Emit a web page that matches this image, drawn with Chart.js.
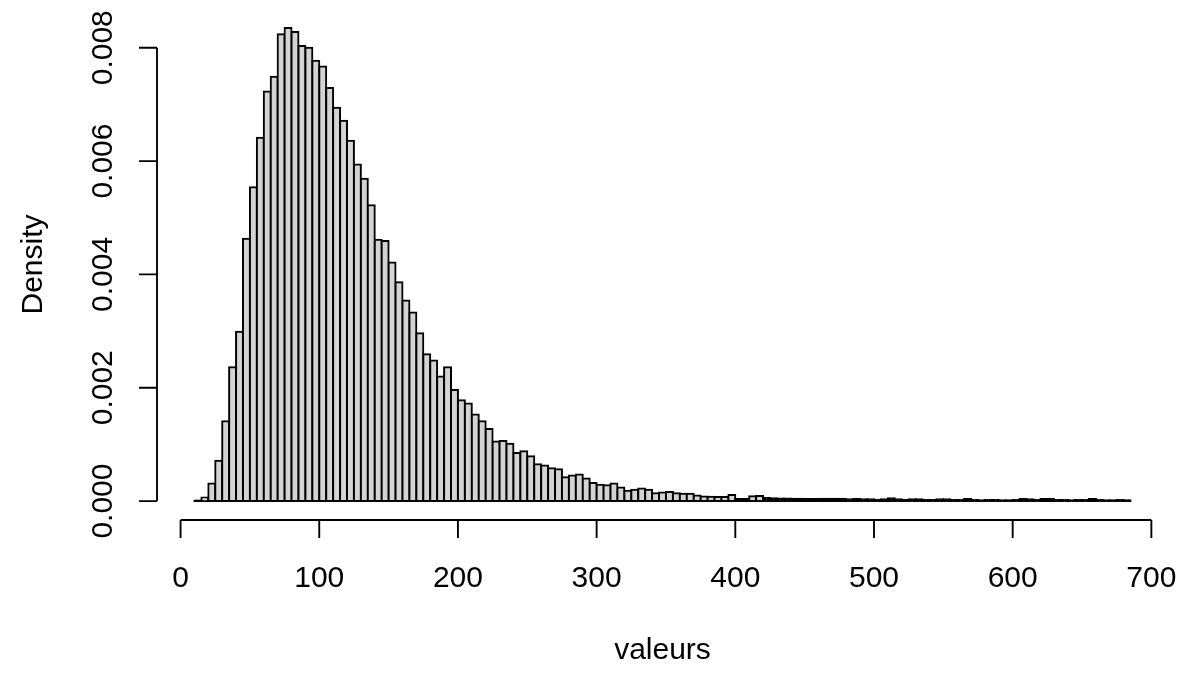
<!DOCTYPE html>
<html>
<head>
<meta charset="utf-8">
<script src="https://cdn.jsdelivr.net/npm/chart.js@4.4.1/dist/chart.umd.min.js"></script>
<style>
  html, body { margin: 0; padding: 0; background: #ffffff; }
  #wrap { width: 1188px; height: 675px; position: relative; }
</style>
</head>
<body>
<div id="wrap"><canvas id="c" width="1188" height="675"></canvas></div>
<script>
// Histogram breaks: first break and bin width (as in R's hist)
const firstBreak = 10;
const binWidth = 5;

// Density of each bin (bins 10-15, 15-20, ... 680-685)
const densities = [
  0.00001, 0.000065, 0.00031, 0.00071, 0.00141, 0.00236, 0.00299, 0.00463, 0.00554, 0.00641,
  0.00723, 0.00749, 0.00824, 0.00835, 0.00828, 0.00803, 0.00800, 0.00777, 0.00767, 0.00729,
  0.00694, 0.00671, 0.00636, 0.00594, 0.00569, 0.00522, 0.00461, 0.00459, 0.00421, 0.00386,
  0.00354, 0.00333, 0.00296, 0.00259, 0.00248, 0.00220, 0.00236, 0.00196, 0.00178, 0.00172,
  0.00153, 0.00141, 0.00127, 0.00105, 0.00106, 0.00101, 0.00085, 0.00088, 0.00079, 0.00065,
  0.00063, 0.00058, 0.00056, 0.00042, 0.00045, 0.00047, 0.00040, 0.00032, 0.00029, 0.00028,
  0.00031, 0.00024, 0.00018, 0.00020, 0.00022, 0.00020, 0.00014, 0.00015, 0.00016, 0.00014,
  0.00013, 0.00013, 0.00010, 0.000082, 0.000077, 0.00007, 0.00007, 0.000108, 0.000035, 0.000035,
  0.000085, 0.00009, 0.000053, 0.00005, 0.000047, 0.000047, 0.000041, 0.000041, 0.000035, 0.000035,
  0.000041, 0.000041, 0.000041, 0.000035, 0.00003, 0.000035, 0.00003, 0.00003, 0.000025, 0.00003,
  0.00005, 0.00003, 0.000025, 0.00003, 0.00003, 0.00002, 0.00002, 0.00003, 0.00003, 0.00002,
  0.00002, 0.000035, 0.00002, 0.000015, 0.00002, 0.00002, 0.000015, 0.000015, 0.00002, 0.000035,
  0.00003, 0.00002, 0.000035, 0.000035, 0.00002, 0.00002, 0.000015, 0.00002, 0.00002, 0.000035,
  0.00002, 0.000015, 0.000015, 0.00002, 0.000015
];

// Axis ticks and labels
const xTicks = [0, 100, 200, 300, 400, 500, 600, 700];
const xTickLabels = ['0', '100', '200', '300', '400', '500', '600', '700'];
const yTicks = [0, 0.002, 0.004, 0.006, 0.008];
const yTickLabels = ['0.000', '0.002', '0.004', '0.006', '0.008'];
const xTitle = 'valeurs';
const yTitle = 'Density';

// Build points (bin midpoints) for Chart.js
const points = densities.map((d, i) => ({ x: firstBreak + binWidth * i + binWidth / 2, y: d }));
const lastBreak = firstBreak + binWidth * densities.length;
const xPad = (lastBreak - firstBreak) * 0.04;
const yMax = Math.max(...densities);
const yPad = yMax * 0.04;

const FONT = '30px "Liberation Sans", Arial, Helvetica, sans-serif';
const LW = 1.875;
const FILL = '#D3D3D3';

const rAxes = {
  id: 'rAxes',
  afterDraw(chart) {
    const ctx = chart.ctx;
    const xs = chart.scales.x, ys = chart.scales.y;
    const area = chart.chartArea;
    ctx.save();
    ctx.strokeStyle = '#000';
    ctx.fillStyle = '#000';
    ctx.lineWidth = LW;
    ctx.lineCap = 'butt';
    ctx.font = FONT;

    // x axis
    const yAx = area.bottom;
    ctx.beginPath();
    ctx.moveTo(xs.getPixelForValue(xTicks[0]), yAx);
    ctx.lineTo(xs.getPixelForValue(xTicks[xTicks.length - 1]), yAx);
    xTicks.forEach(v => {
      const px = xs.getPixelForValue(v);
      ctx.moveTo(px, yAx);
      ctx.lineTo(px, yAx + 18);
    });
    ctx.stroke();
    ctx.textAlign = 'center';
    ctx.textBaseline = 'alphabetic';
    xTicks.forEach((v, i) => {
      ctx.fillText(xTickLabels[i], xs.getPixelForValue(v), yAx + 67);
    });
    ctx.fillText(xTitle, (area.left + area.right) / 2, yAx + 139);

    // y axis
    const xAx = area.left;
    ctx.beginPath();
    ctx.moveTo(xAx, ys.getPixelForValue(yTicks[0]));
    ctx.lineTo(xAx, ys.getPixelForValue(yTicks[yTicks.length - 1]));
    yTicks.forEach(v => {
      const py = ys.getPixelForValue(v);
      ctx.moveTo(xAx, py);
      ctx.lineTo(xAx - 18, py);
    });
    ctx.stroke();
    yTicks.forEach((v, i) => {
      ctx.save();
      ctx.translate(xAx - 45, ys.getPixelForValue(v));
      ctx.rotate(-Math.PI / 2);
      ctx.textAlign = 'center';
      ctx.fillText(yTickLabels[i], 0, 0);
      ctx.restore();
    });
    ctx.save();
    ctx.translate(xAx - 115, (area.top + area.bottom) / 2);
    ctx.rotate(-Math.PI / 2);
    ctx.textAlign = 'center';
    ctx.fillText(yTitle, 0, 0);
    ctx.restore();
    ctx.restore();
  }
};

// Very short bars: the outline closes over them (as R's stroke does), so fill them black
function barFill(c) {
  const chart = c.chart;
  const ys = chart.scales && chart.scales.y;
  if (!ys || !c.raw) return FILL;
  const h = Math.abs(ys.getPixelForValue(0) - ys.getPixelForValue(c.raw.y));
  return h < 3.2 ? '#000000' : FILL;
}

new Chart(document.getElementById('c'), {
  type: 'bar',
  data: {
    datasets: [{
      data: points,
      backgroundColor: barFill,
      borderColor: '#000000',
      borderWidth: 2,
      borderSkipped: false,
      inflateAmount: 1,
      barPercentage: 1.0,
      categoryPercentage: 1.0,
      clip: false
    }]
  },
  options: {
    responsive: false,
    animation: false,
    devicePixelRatio: 1,
    layout: { padding: { left: 157, right: 20, top: 9, bottom: 155 } },
    plugins: { legend: { display: false }, tooltip: { enabled: false }, title: { display: false } },
    scales: {
      x: { type: 'linear', display: false, min: firstBreak - xPad, max: lastBreak + xPad, offset: false },
      y: { type: 'linear', display: false, min: -yPad, max: yMax + yPad }
    }
  },
  plugins: [rAxes]
});
</script>
</body>
</html>
